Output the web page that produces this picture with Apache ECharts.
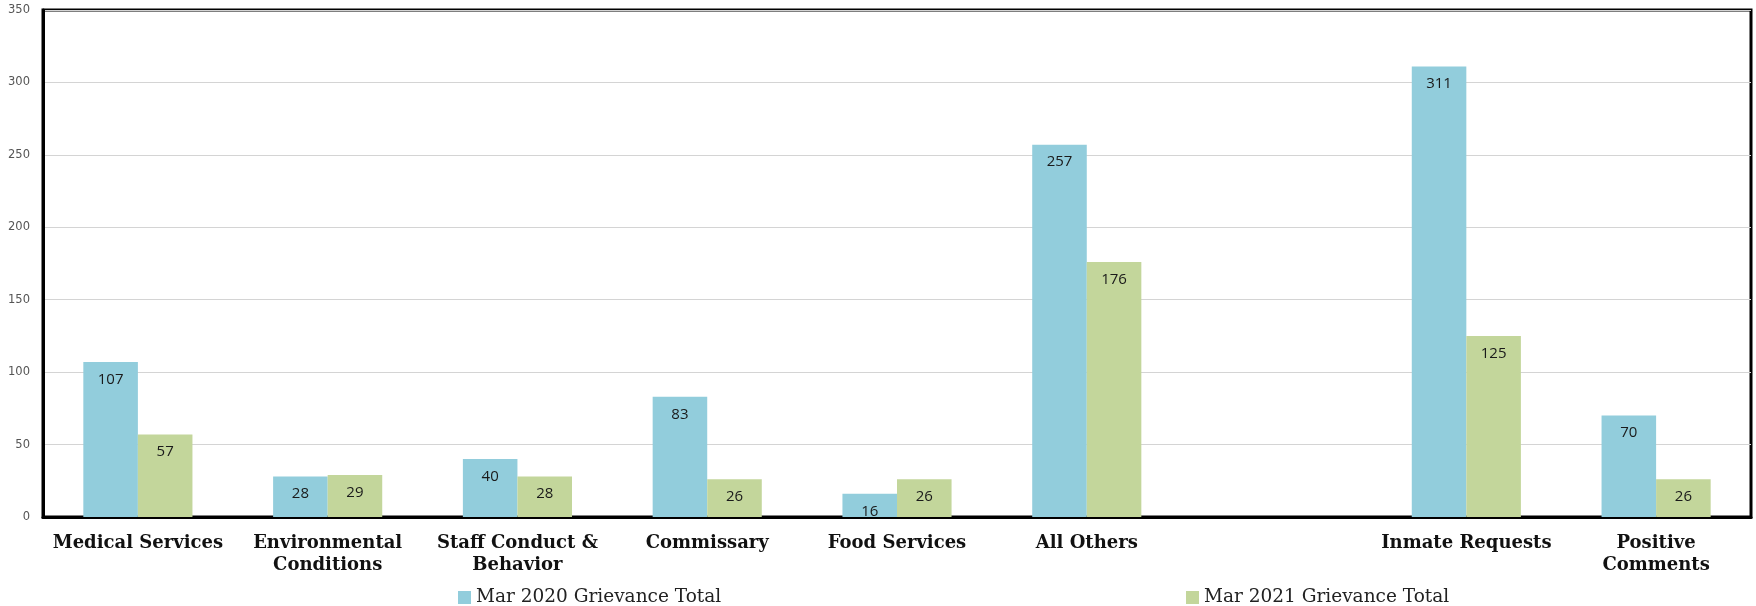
<!DOCTYPE html>
<html><head><meta charset="utf-8">
<script src="https://cdn.jsdelivr.net/npm/echarts@6/dist/echarts.min.js"></script>
<style>html,body{margin:0;padding:0;background:#fff}#c{width:1756px;height:606px}</style>
</head><body><div id="c"></div>
<script>
const categories = ['Medical Services', 'Environmental\nConditions', 'Staff Conduct &\nBehavior', 'Commissary', 'Food Services', 'All Others', '', 'Inmate Requests', 'Positive\nComments'];
const mar2020 = [107, 28, 40, 83, 16, 257, null, 311, 70];
const mar2021 = [57, 29, 28, 26, 26, 176, null, 125, 26];
const seriesNames = ['Mar 2020 Grievance Total', 'Mar 2021 Grievance Total'];
const yTicks = {min: 0, max: 350, interval: 50};

const chart = echarts.init(document.getElementById('c'));
const labelStyle = {show: true, position: 'insideTop', distance: 10, color: '#1a1a1a', fontSize: 15, fontFamily: 'Open Sans'};
const legendText = {fontFamily: 'DejaVu Serif', fontSize: 18.5, color: '#222'};
chart.setOption({
  animation: false,
  grid: {left: 43, right: 5, top: 10, bottom: 89, show: true, borderColor: '#000', borderWidth: 3, containLabel: false},
  legend: [
    {data: [seriesNames[0]], left: 453, top: 583, itemWidth: 13, itemHeight: 13, itemGap: 6, icon: 'rect', textStyle: legendText},
    {data: [seriesNames[1]], left: 1181, top: 583, itemWidth: 13, itemHeight: 13, itemGap: 6, icon: 'rect', textStyle: legendText}
  ],
  xAxis: {
    type: 'category', data: categories,
    axisLine: {lineStyle: {color: '#000', width: 3}},
    axisTick: {show: false},
    axisLabel: {interval: 0, margin: 15, fontFamily: 'DejaVu Serif', fontWeight: 'bold', fontSize: 18, color: '#111', lineHeight: 22}
  },
  yAxis: {
    type: 'value', min: yTicks.min, max: yTicks.max, interval: yTicks.interval,
    axisLine: {show: true, lineStyle: {color: '#000', width: 3}},
    axisTick: {show: false},
    splitLine: {lineStyle: {color: '#d4d4d4', width: 1}},
    axisLabel: {margin: 13, fontFamily: 'DejaVu Sans', fontSize: 11.5, color: '#555'}
  },
  series: [
    {name: seriesNames[0], type: 'bar', data: mar2020, barGap: 0, barCategoryGap: '42.5%', itemStyle: {color: '#92CDDC'}, label: labelStyle},
    {name: seriesNames[1], type: 'bar', data: mar2021, barGap: 0, barCategoryGap: '42.5%', itemStyle: {color: '#C3D69B'}, label: labelStyle}
  ]
});
</script></body></html>
